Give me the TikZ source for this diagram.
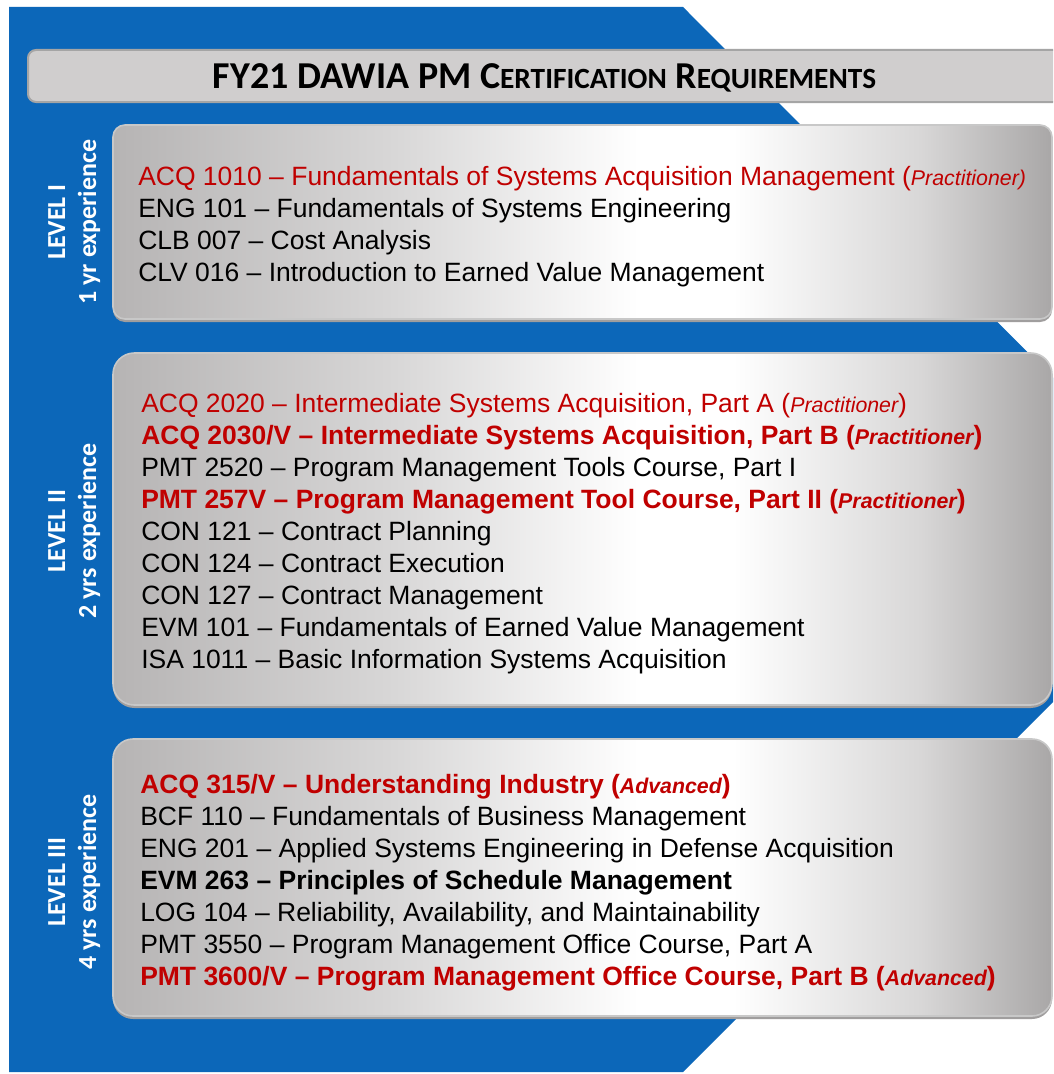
\documentclass[tikz,border=0pt]{standalone}
\usepackage{fontspec}
\setmainfont{Liberation Sans}
\newfontfamily\calib{Carlito}
\definecolor{dblue}{HTML}{0C67B9}
\definecolor{cred}{HTML}{C00000}
\definecolor{gL}{HTML}{B6B4B4}
\definecolor{gM}{HTML}{D8D7D7}
\definecolor{gR}{HTML}{A9A7A7}
\definecolor{titlefill}{HTML}{D0CECE}
\definecolor{titleedge}{HTML}{A5A5A5}
\definecolor{shadowc}{HTML}{A09E9E}
\definecolor{boxedge}{HTML}{C8C8C8}
\pgfdeclarehorizontalshading{boxshade}{100bp}{color(0bp)=(gL); color(25bp)=(gL); color(40bp)=(gM); color(53bp)=(white); color(58bp)=(white); color(68bp)=(gM); color(75bp)=(gR); color(100bp)=(gR)}
\newcommand\fsc[1]{{\fontsize{22}{22}\selectfont #1}}
\newcommand\sit[1]{{\fontsize{16}{16}\selectfont\itshape #1}}
\tikzset{
  ln/.style={anchor=base west, inner sep=0pt, font=\fontsize{19.86}{24}\selectfont},
  lnred/.style={ln, text=cred},
  lbl/.style={anchor=base, inner sep=0pt, rotate=90, text=white, font=\calib\bfseries\fontsize{19.5}{20}\selectfont},
  greybox/.style={shading=boxshade, draw=boxedge, line width=1.2pt},
  boxshadow/.style={fill=shadowc}
}
\begin{document}
\begin{tikzpicture}[x=0.75pt,y=-0.75pt]
\clip (0,0) rectangle (1053,1074);
\fill[white] (0,0) rectangle (1053,1074);
% blue chevron background
\fill[dblue] (9,7) -- (683,7) -- (1215,540) -- (683,1072) -- (9,1072) -- cycle;
% title bar
\draw[fill=titlefill, draw=titleedge, line width=1.5pt, rounded corners=6pt] (28,50) rectangle (1075,102);
\node[anchor=base, inner sep=0pt, font=\calib\bfseries\fontsize{28.5}{28.5}\selectfont] (title) at (544.5,89)
  {FY21 DAWIA PM C\fsc{ERTIFICATION} R\fsc{EQUIREMENTS}};
% level boxes
\fill[boxshadow, rounded corners=9pt] (113,128) rectangle (1052,322);
\path[greybox, rounded corners=9pt] (113,125) rectangle (1052,319);
\fill[boxshadow, rounded corners=16pt] (113,356) rectangle (1052,708);
\path[greybox, rounded corners=16pt] (113,353) rectangle (1052,705);
\fill[boxshadow, rounded corners=15pt] (113,742) rectangle (1052,1019);
\path[greybox, rounded corners=15pt] (113,739) rectangle (1052,1016);
% level labels
\node[lbl] (lv1) at (65,222) {LEVEL I};
\node[lbl] (ex1) at (96,222) {1 yr experience};
\node[lbl] (lv2) at (65,531) {LEVEL II};
\node[lbl] (ex2) at (96,531) {2 yrs experience};
\node[lbl] (lv3) at (65,882) {LEVEL III};
\node[lbl] (ex3) at (96,882) {4 yrs experience};
% level I courses
\node[lnred] (a1) at (138,185) {ACQ 1010 – Fundamentals of Systems Acquisition Management (\sit{Practitioner)}};
\node[ln] (a2) at (138,217) {ENG 101 – Fundamentals of Systems Engineering};
\node[ln] (a3) at (138,249) {CLB 007 – Cost Analysis};
\node[ln] (a4) at (138,281) {CLV 016 – Introduction to Earned Value Management};
% level II courses
\node[lnred] (b1) at (141,412) {ACQ 2020 – Intermediate Systems Acquisition, Part A (\sit{Practitioner})};
\node[lnred] (b2) at (141,444) {\bfseries ACQ 2030/V – Intermediate Systems Acquisition, Part B (\sit{Practitioner})};
\node[ln] (b3) at (141,476) {PMT 2520 – Program Management Tools Course, Part I};
\node[lnred] (b4) at (141,508) {\bfseries PMT 257V – Program Management Tool Course, Part II (\sit{Practitioner})};
\node[ln] (b5) at (141,540) {CON 121 – Contract Planning};
\node[ln] (b6) at (141,572) {CON 124 – Contract Execution};
\node[ln] (b7) at (141,604) {CON 127 – Contract Management};
\node[ln] (b8) at (141,636) {EVM 101 – Fundamentals of Earned Value Management};
\node[ln] (b9) at (141,668) {ISA 1011 – Basic Information Systems Acquisition};
% level III courses
\node[lnred] (c1) at (140,793) {\bfseries ACQ 315/V – Understanding Industry (\sit{Advanced})};
\node[ln] (c2) at (140,825) {BCF 110 – Fundamentals of Business Management};
\node[ln] (c3) at (140,857) {ENG 201 – Applied Systems Engineering in Defense Acquisition};
\node[ln] (c4) at (140,889) {\bfseries EVM 263 – Principles of Schedule Management};
\node[ln] (c5) at (140,921) {LOG 104 – Reliability, Availability, and Maintainability};
\node[ln] (c6) at (140,953) {PMT 3550 – Program Management Office Course, Part A};
\node[lnred] (c7) at (140,985) {\bfseries PMT 3600/V – Program Management Office Course, Part B (\sit{Advanced})};
\end{tikzpicture}
\end{document}
